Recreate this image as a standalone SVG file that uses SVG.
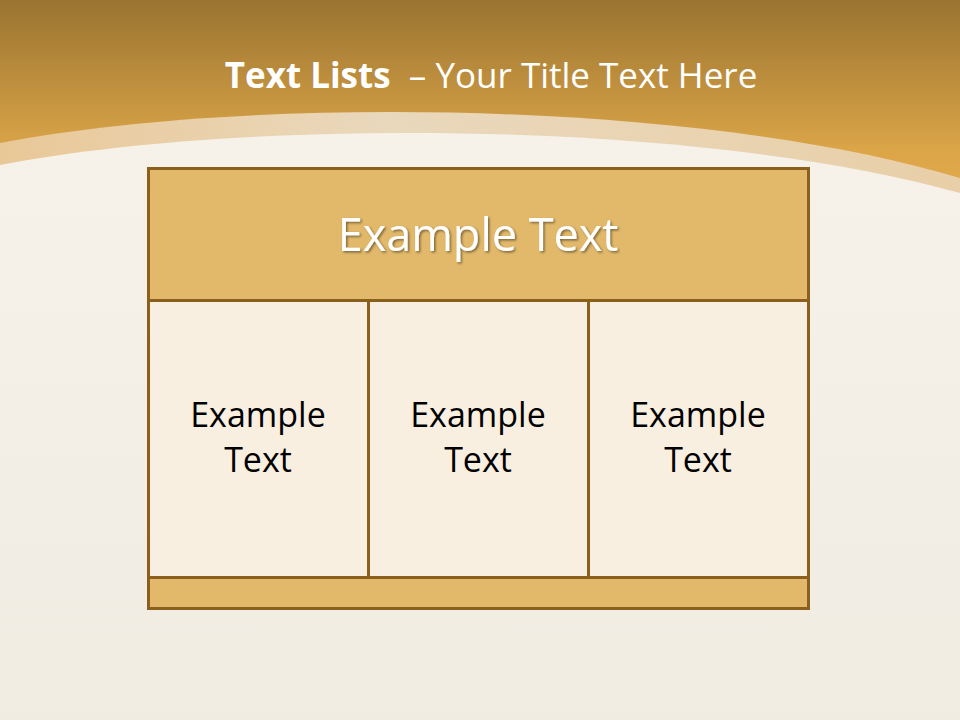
<svg xmlns="http://www.w3.org/2000/svg" width="960" height="720" viewBox="0 0 960 720">
<defs>
<linearGradient id="gold" x1="0" y1="0" x2="0" y2="1">
<stop offset="0" stop-color="#9a7431"/>
<stop offset="0.75" stop-color="#dba548"/>
<stop offset="1" stop-color="#e3aa4a"/>
</linearGradient>
<linearGradient id="band" x1="0" y1="0" x2="1" y2="0">
<stop offset="0" stop-color="#e9c898"/>
<stop offset="0.4" stop-color="#ead8bc"/>
<stop offset="1" stop-color="#e8cfa8"/>
</linearGradient>
<linearGradient id="bg" x1="0" y1="0" x2="0" y2="1">
<stop offset="0" stop-color="#f6f2ea"/>
<stop offset="1" stop-color="#f1ece2"/>
</linearGradient>
<filter id="sh" x="-10%" y="-20%" width="130%" height="150%">
<feDropShadow dx="1.5" dy="1.5" stdDeviation="1" flood-color="#000" flood-opacity="0.45"/>
</filter>
<style>
.box{stroke:#8a601c;stroke-width:3}
.hdr{fill:#e2b96a}
.cell{fill:#f9efe1}
.t{font-family:"Open Sans","DejaVu Sans",sans-serif;text-anchor:middle}
.ct{font-size:34px;fill:#000}
</style>
</defs>
<rect width="960" height="720" fill="url(#bg)"/>
<rect width="960" height="200" fill="url(#gold)"/>
<path d="M0,143 C250,95 700,100 960,178 L960,720 L0,720 Z" fill="url(#band)"/>
<path d="M0,165 C250,117 700,120 960,193 L960,720 L0,720 Z" fill="url(#bg)"/>
<text class="t" x="491" y="88" fill="#fff" font-size="35"><tspan font-weight="bold">Text Lists</tspan><tspan xml:space="preserve">  – Your Title Text Here</tspan></text>
<g id="header">
<rect class="box hdr" x="148.5" y="168.5" width="660" height="132"/>
<text class="t" x="478" y="251" font-size="45" fill="#fff" filter="url(#sh)">Example Text</text>
</g>
<g id="cell1">
<rect class="box cell" x="148.5" y="300.5" width="220" height="277"/>
<text class="t ct" x="258" y="427">Example</text>
<text class="t ct" x="258" y="472">Text</text>
</g>
<g id="cell2">
<rect class="box cell" x="368.5" y="300.5" width="220" height="277"/>
<text class="t ct" x="478" y="427">Example</text>
<text class="t ct" x="478" y="472">Text</text>
</g>
<g id="cell3">
<rect class="box cell" x="588.5" y="300.5" width="220" height="277"/>
<text class="t ct" x="698" y="427">Example</text>
<text class="t ct" x="698" y="472">Text</text>
</g>
<g id="footer">
<rect class="box hdr" x="148.5" y="577.5" width="660" height="31"/>
</g>
<g id="connectors"/>
</svg>
